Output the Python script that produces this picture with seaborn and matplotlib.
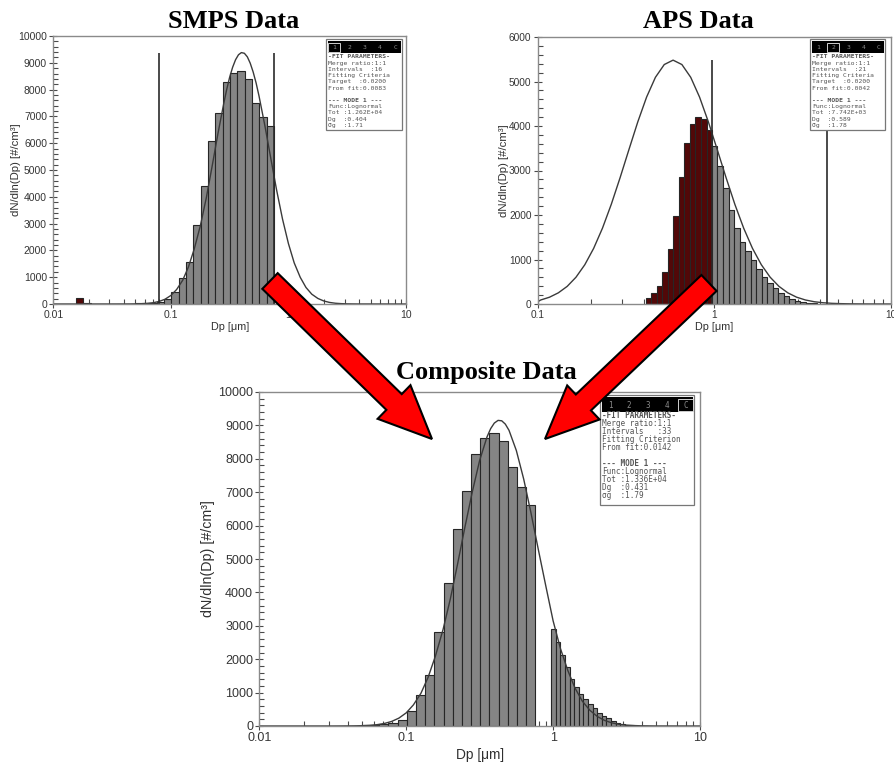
import numpy as np
import matplotlib
matplotlib.use("Agg")
import matplotlib.pyplot as plt
import seaborn as sns
from matplotlib.patches import FancyArrow, Rectangle
from matplotlib.ticker import MultipleLocator, LogLocator, NullFormatter

sns.set_theme(style="ticks")
plt.rcParams['font.family'] = ['Liberation Sans', 'DejaVu Sans']

# ---------------- data ----------------
# bin widths (decades)
smps_bin_dec = 1 / 16
aps_bin_dec = 1 / 32

# SMPS panel: bars inside fit range (grey) and excluded bins (dark red)
smps_grey_dp = [0.0813, 0.0939, 0.1084, 0.1252, 0.1446, 0.1670, 0.1928, 0.2227,
                0.2572, 0.2970, 0.3429, 0.3960, 0.4573, 0.5281, 0.6099, 0.7043]
smps_grey_val = [90, 200, 436, 983, 1580, 2948, 4415, 6082,
                 7139, 8272, 8607, 8706, 8396, 7512, 6965, 6642]
smps_red_dp = [0.0167, 0.0193, 0.0223, 0.0257, 0.0297, 0.0343, 0.0396, 0.0457,
               0.0528, 0.0610, 0.0704]
smps_red_val = [210, 30, 10, 8, 10, 10, 12, 15, 20, 30, 45]
smps_fit_range = [0.0796, 0.757]
smps_curve_dp = [0.01, 0.0316, 0.0398, 0.0447, 0.0501, 0.0562, 0.0631, 0.0708, 0.0794,
                 0.0891, 0.100, 0.112, 0.126, 0.141, 0.158, 0.178, 0.200, 0.224,
                 0.251, 0.282, 0.2985, 0.316, 0.335, 0.355, 0.376, 0.398, 0.422,
                 0.447, 0.473, 0.501, 0.531, 0.562, 0.631, 0.708, 0.794, 0.891,
                 1.00, 1.12, 1.26, 1.41, 1.58, 1.78, 2.00, 2.24, 2.51, 2.82, 3.16,
                 3.55, 3.98, 10.0]
smps_curve_val = [0, 0, 1, 2, 5, 11, 24, 48, 95,
                  177, 318, 542, 884, 1379, 2051, 2913, 3953, 5123,
                  6340, 7492, 8006, 8456, 8830, 9114, 9300, 9381, 9355,
                  9223, 8987, 8658, 8245, 7761, 6645, 5434, 4243, 3165,
                  2253, 1533, 996, 617, 366, 207, 112, 58, 28, 13, 6,
                  3, 1, 0]

# APS panel
aps_red_dp = [0.425, 0.456, 0.491, 0.527, 0.566, 0.609, 0.654, 0.703, 0.755, 0.812, 0.872, 0.937]
aps_red_val = [128, 240, 408, 715, 1240, 1980, 2861, 3611, 4055, 4209, 4150, 3915]
aps_grey_dp = [1.007, 1.082, 1.163, 1.250, 1.343, 1.443, 1.551, 1.667, 1.791, 1.925, 2.068,
               2.223, 2.388, 2.567, 2.758, 2.964, 3.185, 3.423, 3.678, 3.953, 4.248]
aps_grey_val = [3555, 3105, 2600, 2112, 1710, 1385, 1195, 989, 780, 614, 480,
                350, 255, 180, 120, 75, 42, 24, 12, 6, 3]
aps_fit_range = [0.972, 4.37]
aps_curve_dp = [0.100, 0.104, 0.1167, 0.1309, 0.1469, 0.1648, 0.1849, 0.2075, 0.2328,
                0.2612, 0.2931, 0.3289, 0.3690, 0.4140, 0.4645, 0.5212, 0.5848, 0.6561,
                0.7362, 0.8260, 0.9268, 1.040, 1.167, 1.309, 1.469, 1.648, 1.849, 2.075,
                2.328, 2.612, 2.931, 3.289, 3.690, 4.140, 4.645, 5.212, 5.848, 7.362, 10.0]
aps_curve_val = [50, 90, 153, 251, 396, 602, 883, 1250, 1704,
                 2241, 2841, 3472, 4092, 4650, 5094, 5381, 5480, 5381,
                 5094, 4650, 4092, 3472, 2841, 2241, 1704, 1250, 883, 602,
                 396, 251, 153, 90, 51, 28, 15, 8, 4, 1, 0]

# Composite panel
comp_smps_dp = [0.0396, 0.0457, 0.0528, 0.0610, 0.0704, 0.0813, 0.0939, 0.1084, 0.1252,
                0.1446, 0.1670, 0.1928, 0.2227, 0.2572, 0.2970, 0.3429, 0.3960, 0.4573,
                0.5281, 0.6099, 0.7043]
comp_smps_val = [5, 10, 20, 40, 70, 100, 180, 444, 938,
                 1527, 2824, 4281, 5888, 7040, 8140, 8613, 8771, 8533,
                 7764, 7146, 6607]
comp_aps_dp = aps_grey_dp
comp_aps_val = [2895, 2525, 2126, 1757, 1398, 1159, 949, 799, 659, 530, 398,
                299, 230, 160, 100, 60, 40, 20, 10, 5, 3]
comp_curve_dp = [0.01, 0.0316, 0.0398, 0.0447, 0.0501, 0.0562, 0.0631, 0.0708, 0.0794,
                 0.0891, 0.100, 0.112, 0.126, 0.141, 0.158, 0.178, 0.200, 0.224,
                 0.251, 0.282, 0.316, 0.355, 0.376, 0.398, 0.422, 0.447, 0.473, 0.501,
                 0.562, 0.631, 0.708, 0.794, 0.891, 1.00, 1.12, 1.26, 1.41, 1.58,
                 1.78, 2.00, 2.24, 2.51, 2.82, 3.16, 3.55, 3.98, 5.01, 10.0]
comp_curve_val = [0, 0, 2, 5, 10, 20, 39, 74, 135,
                  235, 393, 633, 980, 1459, 2091, 2880, 3816, 4861,
                  5954, 7015, 7947, 8658, 8905, 9070, 9150, 9138, 9038, 8853,
                  8248, 7390, 6366, 5275, 4203, 3150, 2330, 1660, 1135, 745,
                  470, 285, 167, 94, 50, 26, 13, 6, 1, 0]

x_tick_vals = [0.01, 0.1, 1, 10]
x_tick_text = ["0.01", "0.1", "1", "10"]

smps_box = ["-FIT PARAMETERS-", "Merge ratio:1:1", "Intervals  :16", "Fitting Criteria",
            "Target  :0.0200", "From fit:0.0083", "", "--- MODE 1 ---", "Func:Lognormal",
            "Tot :1.262E+04", "Dg  :0.404", "\u03c3g  :1.71"]
aps_box = ["-FIT PARAMETERS-", "Merge ratio:1:1", "Intervals  :21", "Fitting Criteria",
           "Target  :0.0200", "From fit:0.0042", "", "--- MODE 1 ---", "Func:Lognormal",
           "Tot :7.742E+03", "Dg  :0.589", "\u03c3g  :1.78"]
comp_box = ["-FIT PARAMETERS-", "Merge ratio:1:1", "Intervals   :33", "Fitting Criterion",
            "From fit:0.0142", "", "--- MODE 1 ---", "Func:Lognormal",
            "Tot :1.336E+04", "Dg  :0.431", "\u03c3g  :1.79"]

# ---------------- figure ----------------
W, H = 894, 762
fig = plt.figure(figsize=(W / 100, H / 100), dpi=100)
fig.patch.set_facecolor("white")

def px_axes(x0, y0, x1, y1):
    return fig.add_axes([x0 / W, 1 - y1 / H, (x1 - x0) / W, (y1 - y0) / H])

ax_s = px_axes(53.3, 36, 406, 304)
ax_a = px_axes(537.7, 37, 890.7, 304)
ax_c = px_axes(259.3, 392, 700, 726)

GREY = "#858585"
RED = "#520808"
EDGE = "#262626"
CURVE = "#3a3a3a"

def bars(ax, dp, val, w_dec, color):
    lg = np.log10(np.asarray(dp, dtype=float))
    edges = list(lg[0] - w_dec / 2 + w_dec * np.arange(len(dp) + 1))
    sns.histplot(x=dp, weights=val, bins=edges, log_scale=True, color=color,
                 edgecolor=EDGE, linewidth=0.8, alpha=1, ax=ax, stat="count",
                 element="bars", fill=True)

def curve(ax, dp, val):
    sns.lineplot(x=dp, y=val, color=CURVE, linewidth=1.0, ax=ax)

def style(ax, xlim, ymax, ystep, fs):
    ax.set_xscale("log")
    ax.set_xlim(*xlim)
    ax.set_ylim(0, ymax)
    ax.set_yticks(np.arange(0, ymax + 1, ystep))
    ax.set_yticklabels([str(int(v)) for v in np.arange(0, ymax + 1, ystep)])
    ax.yaxis.set_minor_locator(MultipleLocator(ystep / 5))
    ticks = [t for t in x_tick_vals if xlim[0] <= t <= xlim[1]]
    labs = [l for t, l in zip(x_tick_vals, x_tick_text) if xlim[0] <= t <= xlim[1]]
    ax.set_xticks(ticks)
    ax.set_xticklabels(labs)
    ax.xaxis.set_minor_locator(LogLocator(base=10, subs=np.arange(2, 10)))
    ax.xaxis.set_minor_formatter(NullFormatter())
    ax.tick_params(which="major", direction="inout", length=6, width=0.8, color="#4a4a4a",
                   labelsize=fs, labelcolor="#353535", pad=1.5, bottom=True, left=True)
    ax.tick_params(which="minor", direction="in", length=3.5, width=0.8, color="#4a4a4a",
                   bottom=True, left=True)
    for s in ax.spines.values():
        s.set_visible(True)
        s.set_color("#8a8a8a")
        s.set_linewidth(1.0)
    ax.set_facecolor("white")

# SMPS
bars(ax_s, smps_red_dp, smps_red_val, smps_bin_dec, RED)
bars(ax_s, smps_grey_dp, smps_grey_val, smps_bin_dec, GREY)
curve(ax_s, smps_curve_dp, smps_curve_val)
ax_s.vlines(smps_fit_range, 0, max(smps_curve_val), color="#2a2a2a", linewidth=1.2)
style(ax_s, (0.01, 10), 10000, 1000, 7.5)

# APS
bars(ax_a, aps_red_dp, aps_red_val, aps_bin_dec, RED)
bars(ax_a, aps_grey_dp, aps_grey_val, aps_bin_dec, GREY)
curve(ax_a, aps_curve_dp, aps_curve_val)
ax_a.vlines(aps_fit_range, 0, max(aps_curve_val), color="#2a2a2a", linewidth=1.2)
style(ax_a, (0.1, 10), 6000, 1000, 7.3)

# Composite
bars(ax_c, comp_smps_dp, comp_smps_val, smps_bin_dec, GREY)
bars(ax_c, comp_aps_dp, comp_aps_val, aps_bin_dec, GREY)
curve(ax_c, comp_curve_dp, comp_curve_val)
style(ax_c, (0.01, 10), 10000, 1000, 9)

ylab = "dN/dln(Dp) [#/cm\u00b3]"
for ax, fs, xc in [(ax_s, 8.2, -0.092), (ax_a, 8.2, -0.081), (ax_c, 10.3, -0.100)]:
    ax.set_ylabel(ylab, fontsize=fs, color="#303030")
    ax.set_xlabel("Dp [\u03bcm]", fontsize=fs * 0.96, color="#303030")
    ax.yaxis.set_label_coords(xc, 0.5)
    ax.xaxis.set_label_coords(0.5, -0.066)

# ---------------- overlay: titles, fit boxes, arrows ----------------
ov = fig.add_axes([0, 0, 1, 1], zorder=20)
ov.set_xlim(0, W)
ov.set_ylim(H, 0)
ov.axis("off")
ov.patch.set_alpha(0)

title_kw = dict(family="Liberation Serif", weight="bold", size=19, ha="center",
                va="center", color="black")
ov.text(234, 22, "SMPS Data", **title_kw)
ov.text(698, 22, "APS Data", **title_kw)
ov.text(486, 373, "Composite Data", **title_kw)

def fit_box(x0, y0, w, h, lines, active, fs, hh, lh):
    ov.add_patch(Rectangle((x0, y0), w, h, facecolor="white", edgecolor="#777777", lw=0.9))
    ov.add_patch(Rectangle((x0 + 1.5, y0 + 1.5), w - 3, hh, facecolor="black",
                           edgecolor="none"))
    tabs = ["1", "2", "3", "4", "C"]
    for i, t in enumerate(tabs):
        tx = x0 + w * (0.11 + 0.2 * i)
        ty = y0 + 1.5 + hh * 0.62
        ov.text(tx, ty, t, family="DejaVu Sans Mono", size=fs, color="#8a8a8a",
                ha="center", va="center")
        if i == active:
            ov.add_patch(Rectangle((tx - w * 0.08, y0 + 3.5), w * 0.16, hh - 3,
                                   facecolor="none", edgecolor="#d0d0d0", lw=0.7))
    y = y0 + hh + 6
    for ln in lines:
        bold = ln.startswith("-")
        ov.text(x0 + 2.5, y, ln, family="DejaVu Sans Mono", size=fs,
                weight="bold" if bold else "normal", color="#555555",
                ha="left", va="center")
        y += lh

fit_box(326, 39, 76, 91, smps_box, 0, 4.6, 12, 6.2)
fit_box(810, 39, 75, 91, aps_box, 1, 4.6, 12, 6.2)
fit_box(600, 395, 94, 110, comp_box, 4, 5.5, 15, 8.0)

arrow_kw = dict(width=22, head_width=47, head_length=53, length_includes_head=True,
                facecolor="#ff0000", edgecolor="black", linewidth=1.5)
ov.add_patch(FancyArrow(270, 281, 162, 158, **arrow_kw))
ov.add_patch(FancyArrow(709, 283, -164, 156, **arrow_kw))

fig.savefig("out.png", dpi=100, facecolor="white")
